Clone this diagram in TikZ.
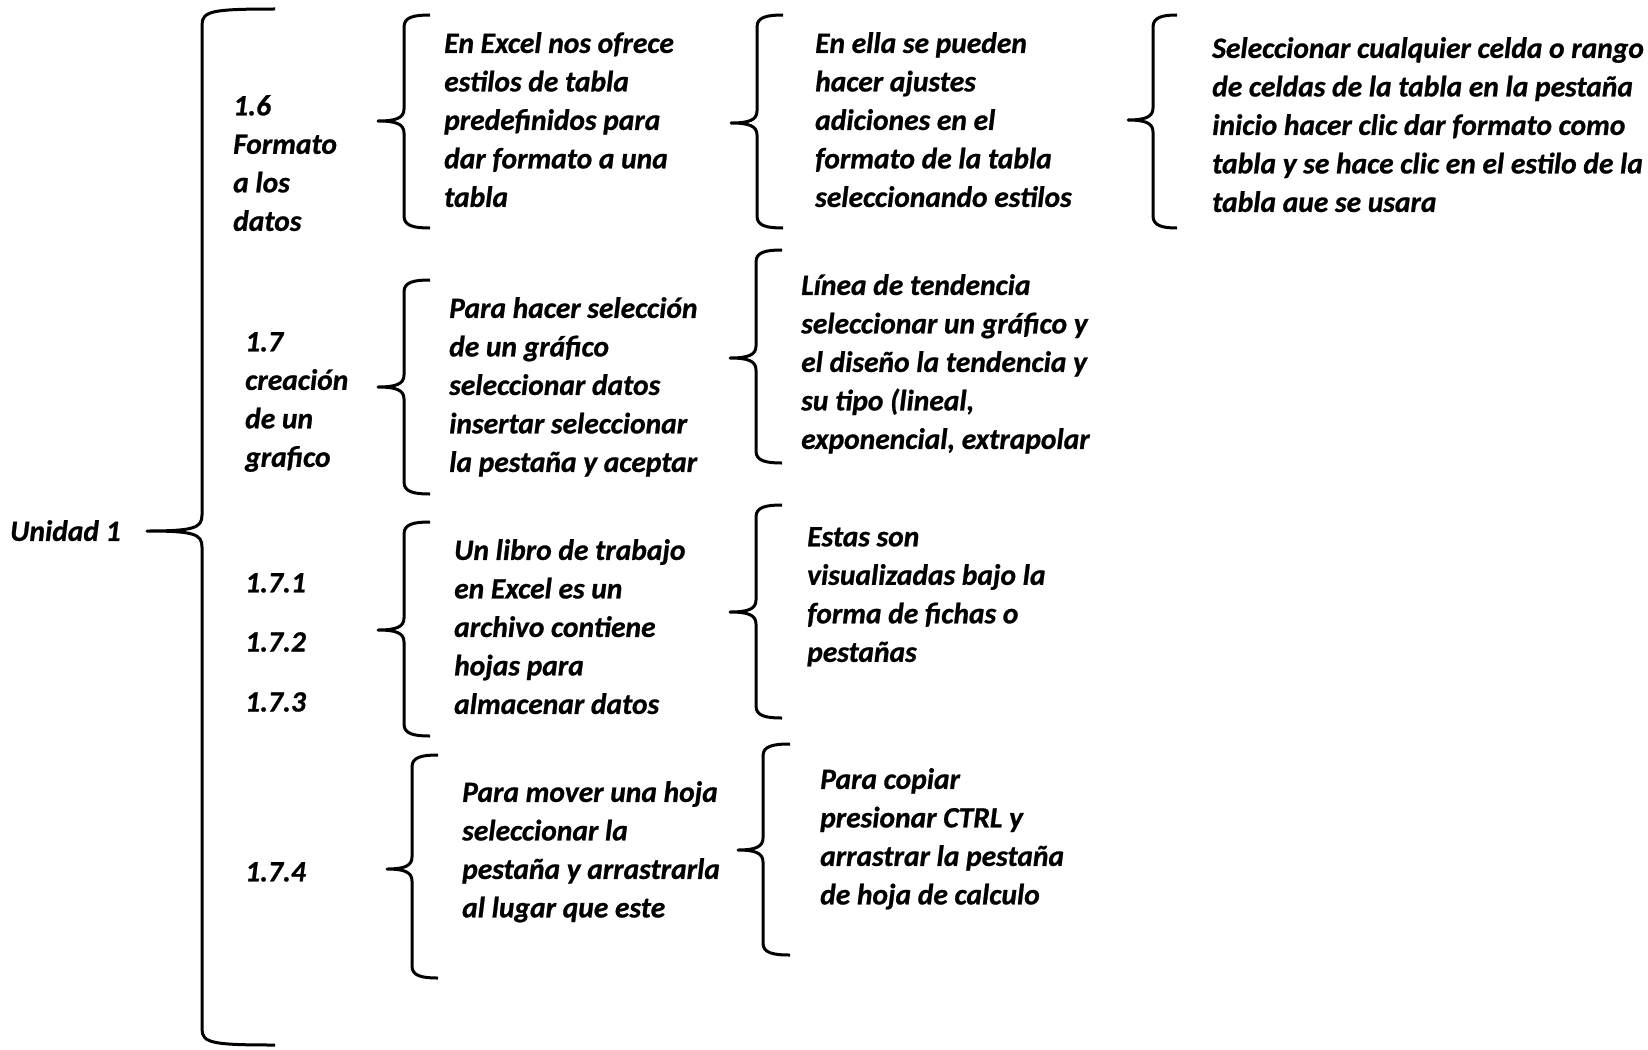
\documentclass[tikz,border=0pt]{standalone}
\usepackage{fontspec}
\setmainfont{Carlito}[BoldItalicFeatures={FakeBold=0.8}]
\begin{document}
\begin{tikzpicture}[x=1pt,y=-1pt,
  brc/.style={line width=3pt,line cap=butt,line join=round},
  txt/.style={font=\fontsize{29.5}{38.5}\selectfont\bfseries\itshape,align=left,inner sep=0pt,anchor=north west}]
\useasboundingbox[fill=white] (0,0) rectangle (1648,1049);
% brace: #1 vertical x, #2 end x, #3 tip x, #4 top y, #5 mid y, #6 bottom y, #7 curve size
\newcommand\cbrace[7]{%
  \draw[brc] (#2,#4) .. controls (#1+10,#4) and (#1,#4+2) .. (#1,#4+#7)
    -- (#1,#5-#7) .. controls (#1,#5-3) and (#1-8,#5) .. (#3,#5)
    .. controls (#1-8,#5) and (#1,#5+3) .. (#1,#5+#7)
    -- (#1,#6-#7) .. controls (#1,#6-2) and (#1+10,#6) .. (#2,#6);}
\cbrace{202}{275}{147}{9}{531}{1045}{16}
\cbrace{404}{430}{378}{15}{121}{228}{12}
\cbrace{757}{783}{731}{15}{123}{228}{12}
\cbrace{1153}{1177}{1128}{15}{120}{228}{12}
\cbrace{404}{430}{378}{280}{387}{494}{12}
\cbrace{756}{782}{730}{250}{358}{463}{12}
\cbrace{404}{430}{378}{522}{630}{736}{12}
\cbrace{756}{782}{730}{505}{612}{718}{12}
\cbrace{412}{438}{387}{755}{869}{978}{12}
\cbrace{763}{790}{738}{744}{850}{955}{12}
% texts
\node[txt] (u) at (10,520) {Unidad 1};
\node[txt] (l16) at (233,95) {1.6\\Formato\\a los\\datos};
\node[txt] (l17) at (245,332) {1.7\\creación\\de un\\grafico};
\node[txt] (l171) at (245,573) {1.7.1};
\node[txt] (l172) at (245,632) {1.7.2};
\node[txt] (l173) at (245,692) {1.7.3};
\node[txt] (l174) at (245,862) {1.7.4};
\node[txt] (t1) at (444,32) {En Excel nos ofrece\\estilos de tabla\\predefinidos para\\dar formato a una\\tabla};
\node[txt] (t2) at (815,32) {En ella se pueden\\hacer ajustes\\adiciones en el\\formato de la tabla\\seleccionando estilos};
\node[txt] (t3) at (1212,37) {Seleccionar cualquier celda o rango\\de celdas de la tabla en la pestaña\\inicio hacer clic dar formato como\\tabla y se hace clic en el estilo de la\\tabla aue se usara};
\node[txt] (t4) at (449,297) {Para hacer selección\\de un gráfico\\seleccionar datos\\insertar seleccionar\\la pestaña y aceptar};
\node[txt] (t5) at (801,274) {Línea de tendencia\\seleccionar un gráfico y\\el diseño la tendencia y\\su tipo (lineal,\\exponencial, extrapolar};
\node[txt] (t6) at (454,539) {Un libro de trabajo\\en Excel es un\\archivo contiene\\hojas para\\almacenar datos};
\node[txt] (t7) at (807,527) {Estas son\\visualizadas bajo la\\forma de fichas o\\pestañas};
\node[txt] (t8) at (462,781) {Para mover una hoja\\seleccionar la\\pestaña y arrastrarla\\al lugar que este};
\node[txt] (t9) at (820,768) {Para copiar\\presionar CTRL y\\arrastrar la pestaña\\de hoja de calculo};
\end{tikzpicture}
\end{document}
